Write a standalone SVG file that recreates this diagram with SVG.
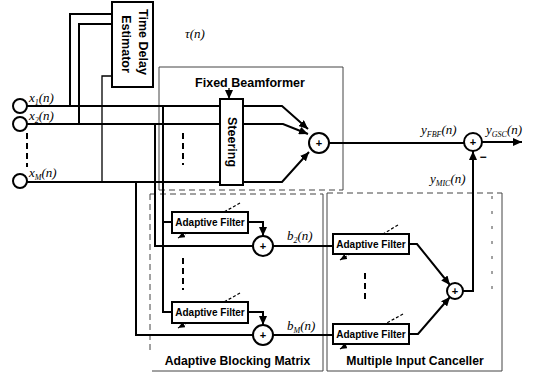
<svg xmlns="http://www.w3.org/2000/svg" width="533" height="376" viewBox="0 0 533 376">
<style>
.sig{fill:none;stroke:#000;stroke-width:2}
.thin{fill:none;stroke:#000;stroke-width:1.3}
.box{fill:#fff;stroke:#000;stroke-width:2}
.grp{fill:none;stroke:#444;stroke-width:1}
.grpd{fill:none;stroke:#444;stroke-width:1;stroke-dasharray:6,4}
.dash{fill:none;stroke:#000;stroke-width:2;stroke-dasharray:6,4}
.adapt{fill:none;stroke:#000;stroke-width:1.2;stroke-dasharray:3,2}
.lbl{font-family:"Liberation Sans",Arial,sans-serif;font-weight:bold;fill:#000}
.math{font-family:"Liberation Serif","Times New Roman",serif;font-style:italic;fill:#000;font-size:13px}
.sub{font-size:8px}
.plus{font-family:"Liberation Sans",Arial,sans-serif;font-weight:bold;font-size:11px;text-anchor:middle}
</style>
<defs>
<marker id="arr" markerUnits="userSpaceOnUse" markerWidth="9" markerHeight="8" refX="9" refY="4" orient="auto"><path d="M0,0 L9,4 L0,8 z" fill="#000"/></marker>
<marker id="arrs" markerUnits="userSpaceOnUse" markerWidth="7" markerHeight="6" refX="7" refY="3" orient="auto"><path d="M0,0 L7,3 L0,6 z" fill="#000"/></marker>
</defs>
<rect width="533" height="376" fill="#fff"/>

<!-- group boxes -->
<g id="fbf-box">
<path class="grp" d="M159,67 H343 V190"/>
<path class="grp" d="M159,67 V190"/>
<path class="grpd" d="M159,190 H343"/>
<text class="lbl" x="250" y="87" font-size="12.5" text-anchor="middle">Fixed Beamformer</text>
</g>
<g id="abm-box">
<path class="grpd" d="M150,194 H323"/>
<path class="grpd" d="M150,194 V352"/>
<path class="grp" d="M323,194 V371 H152"/>
<text class="lbl" x="237.5" y="365" font-size="12.2" text-anchor="middle">Adaptive Blocking Matrix</text>
</g>
<g id="mic-box">
<path class="grpd" d="M327,193 H502"/>
<path class="grp" d="M327,193 V371 H502 V193"/>
<path class="grpd" d="M492,196 V292" style="stroke-dasharray:3,12"/>
<text class="lbl" x="415" y="365" font-size="12.2" text-anchor="middle">Multiple Input Canceller</text>
</g>

<!-- connectors -->
<g id="connectors">
<path class="sig" d="M27,106 H220"/>
<path class="sig" d="M27,124 H220"/>
<path class="sig" d="M27,182 H220"/>
<path class="sig" d="M70,106 V14 H112"/>
<path class="sig" d="M79,124 V24 H112"/>
<path class="thin" d="M102,182 V76 H112"/>
<path class="thin" d="M229,88 V99" marker-end="url(#arr)"/>
<path class="sig" d="M243,106 H282 L308,129" marker-end="url(#arr)"/>
<path class="sig" d="M243,124 H283 L308,134" marker-end="url(#arr)"/>
<path class="sig" d="M243,182 H282 L309,152" marker-end="url(#arr)"/>
<path class="sig" d="M329,143 H464"/>
<path class="sig" d="M482,142 H522" marker-end="url(#arr)"/>
<path class="sig" d="M163,106 V312 H172"/>
<path class="sig" d="M163,222 H172"/>
<path class="sig" d="M155,124 V246 H253"/>
<path class="sig" d="M136,182 V335 H253"/>
<path class="sig" d="M248,222 H263 V236" marker-end="url(#arr)"/>
<path class="sig" d="M248,312 H263 V325" marker-end="url(#arr)"/>
<path class="sig" d="M273,246 H333"/>
<path class="sig" d="M273,335 H333"/>
<path class="sig" d="M409,244 H417 L450,285" marker-end="url(#arr)"/>
<path class="sig" d="M409,334 H418 L450,297" marker-end="url(#arr)"/>
<path class="sig" d="M463,291 H473 V151" marker-end="url(#arr)"/>
<path class="adapt" d="M240,203 L178,238" marker-end="url(#arrs)"/>
<path class="adapt" d="M240,293 L178,328" marker-end="url(#arrs)"/>
<path class="adapt" d="M398,225 L340,260" marker-end="url(#arrs)"/>
<path class="adapt" d="M403,314 L340,349" marker-end="url(#arrs)"/>
<path class="dash" d="M27,133 V167"/>
<path class="dash" d="M183,133 V165"/>
<path class="dash" d="M183,258 V290"/>
<path class="dash" d="M365,273 V302"/>
</g>

<!-- microphones -->
<g id="mic1"><circle class="box" cx="20" cy="106" r="7"/></g>
<g id="mic2"><circle class="box" cx="20" cy="124" r="7"/></g>
<g id="micM"><circle class="box" cx="20" cy="181" r="7"/></g>

<!-- time delay estimator -->
<g id="tde">
<rect class="box" x="112" y="2" width="41" height="85"/>
<text class="lbl" font-size="12.5" text-anchor="middle" transform="translate(139,42) rotate(90)">Time Delay</text>
<text class="lbl" font-size="12.5" text-anchor="middle" transform="translate(122,44) rotate(90)">Estimator</text>
</g>

<!-- steering -->
<g id="steering">
<rect class="box" x="220" y="99" width="23" height="86"/>
<text class="lbl" font-size="12.5" text-anchor="middle" transform="translate(228,142) rotate(90)">Steering</text>
</g>

<!-- adaptive filters -->
<g id="abm-filter1"><rect class="box" x="172" y="212" width="76" height="21"/><text class="lbl" x="210" y="226" font-size="10" text-anchor="middle">Adaptive Filter</text></g>
<g id="abm-filterM"><rect class="box" x="172" y="302" width="76" height="21"/><text class="lbl" x="210" y="316" font-size="10" text-anchor="middle">Adaptive Filter</text></g>
<g id="mic-filter1"><rect class="box" x="333" y="234" width="76" height="20"/><text class="lbl" x="371" y="248" font-size="10" text-anchor="middle">Adaptive Filter</text></g>
<g id="mic-filterM"><rect class="box" x="333" y="324" width="76" height="20"/><text class="lbl" x="371" y="338" font-size="10" text-anchor="middle">Adaptive Filter</text></g>

<!-- summers -->
<g id="sum-fbf"><circle class="box" cx="319" cy="143" r="10"/><text class="plus" x="319" y="147">+</text></g>
<g id="sum-gsc"><circle class="box" cx="473" cy="142" r="9"/><text class="plus" x="473" y="146">+</text></g>
<g id="sum-b2"><circle class="box" cx="263" cy="246" r="10"/><text class="plus" x="263" y="250">+</text></g>
<g id="sum-bM"><circle class="box" cx="263" cy="335" r="10"/><text class="plus" x="263" y="339">+</text></g>
<g id="sum-mic"><circle class="box" cx="455" cy="291" r="8"/><text class="plus" x="455" y="295">+</text></g>

<!-- labels -->
<g id="labels">
<text class="math" x="29" y="102">x<tspan class="sub" dy="3">1</tspan><tspan dy="-3">(n)</tspan></text>
<text class="math" x="29" y="120">x<tspan class="sub" dy="3">2</tspan><tspan dy="-3">(n)</tspan></text>
<text class="math" x="29" y="177">x<tspan class="sub" dy="3">M</tspan><tspan dy="-3">(n)</tspan></text>
<text class="math" x="185" y="38">τ(n)</text>
<text class="math" x="421" y="134">y<tspan class="sub" dy="3">FBF</tspan><tspan dy="-3">(n)</tspan></text>
<text class="math" x="486" y="134">y<tspan class="sub" dy="3">GSC</tspan><tspan dy="-3">(n)</tspan></text>
<text class="math" x="430" y="183">y<tspan class="sub" dy="3">MIC</tspan><tspan dy="-3">(n)</tspan></text>
<text class="math" x="287" y="240">b<tspan class="sub" dy="3">2</tspan><tspan dy="-3">(n)</tspan></text>
<text class="math" x="287" y="330">b<tspan class="sub" dy="3">M</tspan><tspan dy="-3">(n)</tspan></text>
<text class="lbl" x="483" y="161" font-size="12" text-anchor="middle">−</text>
</g>
</svg>
